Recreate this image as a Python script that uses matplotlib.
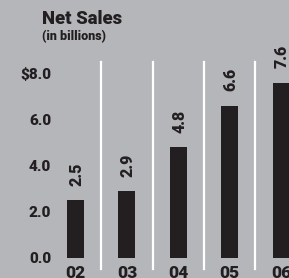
import matplotlib.pyplot as plt

# Net sales by fiscal year (in billions)
years = ['02', '03', '04', '05', '06']
sales = [2.5, 2.9, 4.8, 6.6, 7.6]
sales_labels = ['2.5', '2.9', '4.8', '6.6', '7.6']
y_ticks = [0, 2, 4, 6, 8]
y_tick_labels = ['0.0', '2.0', '4.0', '6.0', '$8.0']

bg = '#b5b6ba'
bar_color = '#231f20'
plt.rcParams['font.family'] = ['Roboto', 'DejaVu Sans']
plt.rcParams['font.weight'] = 'black'
wt = 'black'

fig = plt.figure(figsize=(2.89, 2.78), dpi=100, facecolor=bg)
W, H = 289, 278
ax = fig.add_axes([56 / W, (H - 257.5) / H, (W - 56) / W, (257.5 - 62) / H])
ax.set_facecolor(bg)

x = list(range(len(years)))
ax.bar(x, sales, width=0.33, color=bar_color, zorder=3)

# value labels above bars
for i, v in enumerate(sales):
    ax.text(i + 0.02, v + 0.62, sales_labels[i], rotation=90, ha='center',
            va='bottom', fontsize=11.5, fontweight=wt, color=bar_color)

# white separators between the years
for i in range(len(years) - 1):
    ax.plot([i + 0.5, i + 0.5], [-0.5, 8.5], color='white', lw=1.6,
            clip_on=False, zorder=2)

ax.set_xlim(-0.379, 4.154)
ax.set_ylim(0, 8.5)
ax.set_xticks(x)
ax.set_xticklabels(years, fontsize=12.5, fontweight=wt, color=bar_color)
ax.set_yticks(y_ticks)
ax.set_yticklabels(y_tick_labels, fontsize=11, fontweight=wt, color=bar_color)
ax.tick_params(axis='both', length=0)
ax.tick_params(axis='y', pad=3.6)
ax.tick_params(axis='x', pad=5.5)
for s in ax.spines.values():
    s.set_visible(False)

fig.text(42 / W, 1 - 24 / H, 'Net Sales', fontsize=13.3, fontweight=wt,
         color=bar_color, va='baseline', ha='left')
fig.text(42 / W, 1 - 40 / H, '(in billions)', fontsize=9, fontweight=wt,
         color=bar_color, va='baseline', ha='left')

fig.savefig('out.png', dpi=100, facecolor=bg)
